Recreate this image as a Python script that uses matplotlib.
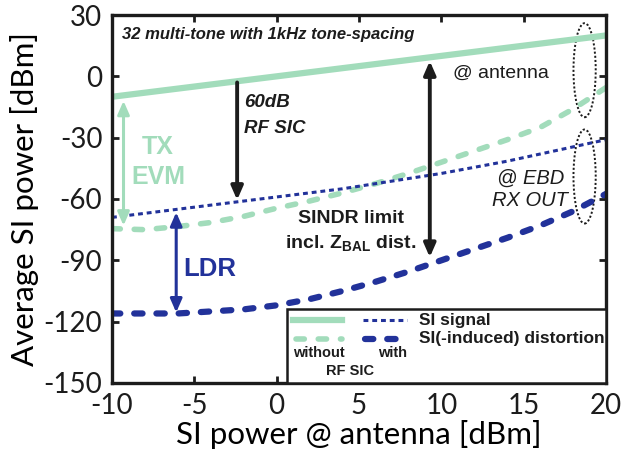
import matplotlib
matplotlib.use("Agg")
import matplotlib.pyplot as plt
from matplotlib.patches import Ellipse, Rectangle
from matplotlib.lines import Line2D

plt.rcParams['mathtext.fontset'] = 'custom'
plt.rcParams['mathtext.bf'] = 'Liberation Sans:bold'
plt.rcParams['mathtext.rm'] = 'Liberation Sans'
plt.rcParams['lines.scale_dashes'] = False
plt.rcParams['axes.unicode_minus'] = False

# SI power at antenna [dBm]
x = [-10, -8, -6, -4, -2, 0, 2, 4, 6, 8, 10, 12, 14, 16, 18, 20]
# without RF SIC
si_no_sic = [-10, -8, -6, -4, -2, 0, 2, 4, 6, 8, 10, 12, 14, 16, 18, 20]
dist_no_sic = [-74.5, -75, -73.5, -71.5, -68.5, -64.5, -61, -57, -52.5, -47.5,
               -42, -36.5, -31, -25, -16, -5.5]
# with RF SIC
si_sic = [-69, -67, -65, -63, -61, -59, -57, -55, -52.5, -50, -47.5, -44.5,
          -41.5, -38, -34.5, -31]
dist_sic = [-116, -116, -116, -115, -114, -112, -109, -105, -100.5, -95.5,
            -90, -84.5, -79, -73, -66, -57.5]

xticks = [-10, -5, 0, 5, 10, 15, 20]
yticks = [30, 0, -30, -60, -90, -120, -150]

green = '#a2dcbb'
blue = '#22329a'
dark = '#1c1c1c'
sans = 'Liberation Sans'

fig = plt.figure(figsize=(6.41, 4.59), dpi=100)
ax = fig.add_axes([0.1747, 0.1656, 0.7707, 0.8017])

ax.plot(x, si_no_sic, color=green, lw=4.5, solid_capstyle='butt')
ax.plot(x, dist_no_sic, color=green, lw=4, dashes=(6, 10), dash_capstyle='round')
ax.plot(x, si_sic, color=blue, lw=2.2, dashes=(3.5, 2.8))
ax.plot(x, dist_sic, color=blue, lw=4.5, dashes=(6, 10), dash_capstyle='round')

ax.set_xlim(-10, 20)
ax.set_ylim(-150, 30)
ax.set_xticks(xticks)
ax.set_yticks(yticks)
ax.tick_params(direction='in', length=5, width=2, top=True, right=True,
               labelsize=20, pad=7, colors=dark)
for lab in ax.get_xticklabels() + ax.get_yticklabels():
    lab.set_fontfamily('Lato')
for s in ax.spines.values():
    s.set_linewidth(2.4)
    s.set_color(dark)
ax.set_xlabel('SI power @ antenna [dBm]', fontsize=22.5, family='Lato', labelpad=1)
ax.set_ylabel('Average SI power [dBm]', fontsize=22.5, family='Lato', labelpad=3)

# arrows
head = '-|>,head_length=0.8,head_width=0.35'
dbl = '<|-|>,head_length=0.8,head_width=0.35'
ax.annotate('', xy=(-9.3, -73), xytext=(-9.3, -12),
            arrowprops=dict(arrowstyle=dbl, color=green, lw=2.2, shrinkA=0, shrinkB=0))
ax.annotate('', xy=(-2.4, -60.5), xytext=(-2.4, -3),
            arrowprops=dict(arrowstyle=head, color=dark, lw=2.8, shrinkA=0, shrinkB=0))
ax.annotate('', xy=(9.3, -88.5), xytext=(9.3, 7.5),
            arrowprops=dict(arrowstyle=dbl, color=dark, lw=2.8, shrinkA=0, shrinkB=0))
ax.annotate('', xy=(-6.1, -115.5), xytext=(-6.1, -66.5),
            arrowprops=dict(arrowstyle=dbl, color=blue, lw=2.2, shrinkA=0, shrinkB=0))

# ellipses
for cy in (3, -49):
    ax.add_patch(Ellipse((18.7, cy), 1.35, 46, fill=False, ec=dark, lw=1.4,
                         ls=(0, (1.5, 1.5))))

# labels
ax.text(-9.4, 20.3, '32 multi-tone with 1kHz tone-spacing', family=sans,
        fontsize=12, weight='bold', style='italic', color=dark, va='center')
ax.text(10.7, 1.6, '@ antenna', family=sans, fontsize=14, color=dark, va='center')
ax.text(-2.0, -13, '60dB', family=sans, fontsize=13.5, weight='bold', style='italic',
        color=dark, va='center')
ax.text(-2.0, -25.5, 'RF SIC', family=sans, fontsize=13.5, weight='bold', style='italic',
        color=dark, va='center')
ax.text(-7.2, -34.6, 'TX', family=sans, fontsize=18, weight='bold', color=green,
        ha='center', va='center')
ax.text(-7.2, -49.3, 'EVM', family=sans, fontsize=18, weight='bold', color=green,
        ha='center', va='center')
ax.text(-5.7, -94, 'LDR', family=sans, fontsize=18.5, weight='bold', color=blue,
        va='center')
ax.text(4.5, -69.3, 'SINDR limit', family=sans, fontsize=14, weight='bold',
        color=dark, ha='center', va='center')
ax.text(4.5, -82, r'incl. Z$_{\mathbf{BAL}}$ dist.', family=sans, fontsize=14,
        weight='bold', color=dark, ha='center', va='center')
ax.text(15.4, -49.7, '@ EBD', family=sans, fontsize=14.5, style='italic', color=dark,
        ha='center', va='center')
ax.text(15.4, -60.5, 'RX OUT', family=sans, fontsize=14.5, style='italic', color=dark,
        ha='center', va='center')

# legend box
tr = ax.transAxes
ax.add_patch(Rectangle((0.354, 0.0), 0.646, 0.201, transform=tr, fc='white',
                       ec=dark, lw=1.8, zorder=5))
ax.add_line(Line2D([0.366, 0.466], [0.171, 0.171], transform=tr, color=green,
                   lw=4.5, zorder=6))
ax.add_line(Line2D([0.508, 0.597], [0.171, 0.171], transform=tr, color=blue,
                   lw=2.2, dashes=(3.5, 2.8), zorder=6))
ax.add_line(Line2D([0.372, 0.466], [0.12, 0.12], transform=tr, color=green,
                   lw=4, dashes=(6, 10), dash_capstyle='round', zorder=6))
ax.add_line(Line2D([0.512, 0.597], [0.12, 0.12], transform=tr, color=blue,
                   lw=4.5, dashes=(6, 10), dash_capstyle='round', zorder=6))
ax.text(0.621, 0.171, 'SI signal', transform=tr, family=sans, fontsize=12.5,
        weight='bold', color=dark, va='center', zorder=7)
ax.text(0.621, 0.12, 'SI(-induced) distortion', transform=tr, family=sans,
        fontsize=12.5, weight='bold', color=dark, va='center', zorder=7)
ax.text(0.419, 0.082, 'without', transform=tr, family=sans, fontsize=10.5,
        weight='bold', color=dark, ha='center', va='center', zorder=7)
ax.text(0.567, 0.082, 'with', transform=tr, family=sans, fontsize=10.5,
        weight='bold', color=dark, ha='center', va='center', zorder=7)
ax.text(0.482, 0.033, 'RF SIC', transform=tr, family=sans, fontsize=10.5,
        weight='bold', color=dark, ha='center', va='center', zorder=7)

fig.savefig('out.png', dpi=100)
